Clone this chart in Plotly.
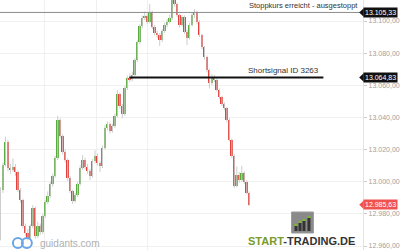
import plotly.graph_objects as go

# ---- data ----
opens = [12965.0, 12994.8, 13010.4, 13024.7, 13008.5, 13007.3, 13009.2, 13006.0, 12994.8, 12988.6,
         12972.4, 12968.1, 12965.0, 12972.4, 12983.6, 12966.2, 12972.4, 12968.7, 12978.7, 12987.4,
         12991.1, 12998.6, 13003.5, 13014.8, 13038.4, 13028.4, 13018.5, 13013.5, 13002.3, 12994.2,
         12988.0, 12991.7, 12998.6, 13008.5, 13013.5, 13009.2, 13006.7, 13003.5, 13012.9, 13016.0,
         13011.6, 13009.8, 13021.0, 13033.4, 13035.9, 13031.6, 13034.7, 13040.9, 13054.6, 13047.1,
         13042.1, 13058.3, 13064.5, 13063.9, 13066.4, 13075.7, 13086.9, 13096.9, 13101.9, 13103.1,
         13099.4, 13105.6, 13096.3, 13092.5, 13091.3, 13088.2, 13093.8, 13097.5, 13099.4, 13101.9,
         13114.3, 13110.6, 13103.7, 13097.5, 13102.5, 13093.2, 13089.4, 13097.5, 13103.7, 13105.6,
         13099.4, 13091.3, 13083.8, 13077.6, 13069.5, 13061.4, 13065.2, 13063.3, 13057.1, 13052.7,
         13048.4, 13045.9, 13038.4, 13026.0, 13016.0, 12997.3, 13004.2, 13001.1, 13005.4, 12999.8,
         12993.0]
highs = [12996.5, 13012.0, 13028.0, 13026.0, 13011.0, 13014.5, 13011.0, 13007.0, 12996.0, 12989.5,
         12974.0, 12970.5, 12973.5, 12985.5, 12984.5, 12975.0, 12974.0, 12980.0, 12988.5, 12994.0,
         13000.0, 13005.0, 13016.0, 13041.0, 13039.5, 13029.5, 13020.0, 13014.5, 13003.5, 12995.0,
         12993.0, 13000.0, 13010.0, 13016.5, 13015.0, 13011.0, 13008.0, 13014.0, 13019.5, 13017.5,
         13013.0, 13022.5, 13035.0, 13037.5, 13037.0, 13036.0, 13042.5, 13057.0, 13055.5, 13048.5,
         13059.5, 13066.0, 13067.5, 13068.5, 13077.0, 13088.0, 13098.0, 13103.5, 13106.0, 13104.5,
         13110.5, 13106.5, 13097.5, 13094.0, 13092.5, 13095.0, 13099.0, 13101.0, 13104.0, 13116.0,
         13115.5, 13111.5, 13104.5, 13103.5, 13103.5, 13094.5, 13099.0, 13105.0, 13107.5, 13106.5,
         13100.5, 13092.0, 13084.5, 13078.5, 13070.5, 13067.0, 13066.5, 13064.5, 13058.0, 13053.5,
         13049.5, 13046.5, 13039.5, 13027.0, 13017.0, 13009.5, 13006.0, 13010.0, 13006.5, 13001.0,
         12994.0]
lows = [12963.5, 12993.0, 13009.5, 13006.5, 13005.0, 13006.0, 13003.5, 12993.5, 12987.0, 12971.0,
        12966.5, 12963.5, 12964.0, 12971.0, 12964.5, 12965.0, 12967.0, 12967.5, 12977.5, 12986.0,
        12990.0, 12997.0, 13002.5, 13013.5, 13027.0, 13017.0, 13012.0, 13000.5, 12993.0, 12986.0,
        12987.0, 12990.5, 12997.5, 13007.5, 13007.5, 13005.0, 13001.0, 13002.5, 13011.5, 13010.0,
        13006.0, 13008.5, 13020.0, 13032.0, 13030.0, 13030.5, 13033.5, 13040.0, 13045.5, 13039.5,
        13041.0, 13057.0, 13062.0, 13062.5, 13065.5, 13074.5, 13085.5, 13095.5, 13100.5, 13098.0,
        13098.5, 13095.0, 13091.0, 13089.5, 13084.5, 13087.0, 13092.5, 13096.0, 13098.5, 13100.5,
        13109.0, 13102.5, 13096.0, 13096.5, 13092.0, 13085.0, 13088.5, 13096.5, 13102.0, 13098.0,
        13090.0, 13082.5, 13076.0, 13068.0, 13058.0, 13060.0, 13062.0, 13056.0, 13051.5, 13047.0,
        13044.5, 13037.0, 13025.0, 13014.5, 12996.0, 12996.5, 12999.5, 13000.0, 12998.5, 12992.0,
        12985.0]
closes = [12994.8, 13010.4, 13024.7, 13008.5, 13007.3, 13009.2, 13006.0, 12994.8, 12988.6, 12972.4,
          12968.1, 12965.0, 12972.4, 12983.6, 12966.2, 12972.4, 12968.7, 12978.7, 12987.4, 12991.1,
          12998.6, 13003.5, 13014.8, 13038.4, 13028.4, 13018.5, 13013.5, 13002.3, 12994.2, 12988.0,
          12991.7, 12998.6, 13008.5, 13013.5, 13009.2, 13006.7, 13003.5, 13012.9, 13016.0, 13011.6,
          13009.8, 13021.0, 13033.4, 13035.9, 13031.6, 13034.7, 13040.9, 13054.6, 13047.1, 13042.1,
          13058.3, 13064.5, 13063.9, 13066.4, 13075.7, 13086.9, 13096.9, 13101.9, 13103.1, 13099.4,
          13105.6, 13096.3, 13092.5, 13091.3, 13088.2, 13093.8, 13097.5, 13099.4, 13101.9, 13114.3,
          13110.6, 13103.7, 13097.5, 13102.5, 13093.2, 13089.4, 13097.5, 13103.7, 13105.6, 13099.4,
          13091.3, 13083.8, 13077.6, 13069.5, 13061.4, 13065.2, 13063.3, 13057.1, 13052.7, 13048.4,
          13045.9, 13038.4, 13026.0, 13016.0, 12997.3, 13004.2, 13001.1, 13005.4, 12999.8, 12993.0,
          12985.63]

y_ticks = [12960, 12980, 13000, 13020, 13040, 13060, 13080, 13100]
y_tick_labels = ["12.960,00", "12.980,00", "13.000,00", "13.020,00",
                 "13.040,00", "13.060,00", "13.080,00", "13.100,00"]
x_grid = [17.8, 38.6, 59.0]

stop_level = 13105.33
stop_label = "13.105,33"
stop_text = "Stoppkurs erreicht - ausgestoppt"
signal_level = 13064.83
signal_label = "13.064,83"
signal_text = "Shortsignal ID 3263"
signal_start = 51.8
signal_end = 129.8
last_label = "12.985,63"

GREEN = "#58ab3c"
RED = "#e5403a"
idx = list(range(len(closes)))

# wicks
wx, wy = [], []
for i in idx:
    wx += [i, i, None]
    wy += [lows[i], highs[i], None]

bodies_base = [min(o, c) for o, c in zip(opens, closes)]
bodies_h = [max(abs(c - o), 0.4) for o, c in zip(opens, closes)]
bodies_col = [GREEN if c >= o else RED for o, c in zip(opens, closes)]

fig = go.Figure()
fig.add_trace(go.Scatter(x=wx, y=wy, mode="lines", line=dict(color="#cdcdcd", width=1),
                         hoverinfo="skip", showlegend=False))
fig.add_trace(go.Bar(x=idx, y=bodies_h, base=bodies_base, width=0.75,
                     marker=dict(color=bodies_col, line=dict(width=0)), showlegend=False))

FONT = "Liberation Sans, Arial, sans-serif"
xdom_end = 365 / 400

fig.update_layout(
    width=400, height=250, margin=dict(l=0, r=0, t=0, b=0),
    paper_bgcolor="white", plot_bgcolor="white", bargap=0,
    font=dict(family=FONT),
    xaxis=dict(domain=[0, xdom_end], range=[-0.2, 145.8], tickvals=x_grid, showticklabels=False,
               showgrid=True, gridcolor="#f0f0f0", gridwidth=1, zeroline=False, showline=False, ticks=""),
    yaxis=dict(side="right", range=[12957.51, 13113.07], tickvals=y_ticks, ticktext=y_tick_labels,
               tickfont=dict(size=7, color="#a0a0a0", family=FONT), ticks="outside", ticklen=3,
               tickcolor="#cccccc", showgrid=True, gridcolor="#f0f0f0", zeroline=False,
               showline=True, linecolor="#e4e4e4", linewidth=1),
)

# level lines
fig.add_shape(type="line", xref="paper", yref="y", x0=0, x1=xdom_end, y0=stop_level, y1=stop_level,
              line=dict(color="#8c8c8c", width=1))
fig.add_shape(type="line", xref="x", yref="y", x0=signal_start, x1=signal_end, y0=signal_level,
              y1=signal_level, line=dict(color="#111111", width=2))

fig.add_annotation(xref="paper", yref="y", x=362 / 400, y=stop_level, xanchor="right", yanchor="bottom",
                   text=stop_text, showarrow=False, font=dict(size=7.5, color="#333333"), yshift=0)
fig.add_annotation(xref="x", yref="y", x=signal_end, y=signal_level, xanchor="right", yanchor="bottom",
                   text=signal_text, showarrow=False, font=dict(size=8, color="#333333"), xshift=-2, yshift=1)

# price boxes with pointer
for lvl, lab, col in [(stop_level, stop_label, "#111111"), (signal_level, signal_label, "#111111"),
                      (closes[-1], last_label, "#ef5350")]:
    fig.add_annotation(xref="paper", yref="y", x=xdom_end, y=lvl, xanchor="left", yanchor="middle",
                       text=lab, showarrow=False, bgcolor=col, borderpad=1,
                       font=dict(size=7, color="white"))
    h = 4.2 / 1.6071
    fig.add_shape(type="path", xref="paper", yref="y",
                  path=f"M {361/400},{lvl} L {365.5/400},{lvl + h} L {365.5/400},{lvl - h} Z",
                  fillcolor=col, line=dict(width=0))

# guidants logo
for cx in (18, 27):
    fig.add_shape(type="circle", xref="paper", yref="paper",
                  x0=(cx - 5) / 400, x1=(cx + 5) / 400, y0=1 - 248 / 250, y1=1 - 238 / 250,
                  line=dict(color="#6aa6e6", width=2))
fig.add_annotation(xref="paper", yref="paper", x=38 / 400, y=1 - 243 / 250, xanchor="left", yanchor="middle",
                   text="guidants.com", showarrow=False, font=dict(size=10, color="#b0b0b0"))

# START-TRADING.DE logo
fig.add_shape(type="rect", xref="paper", yref="paper", x0=293 / 400, x1=315 / 400,
              y0=1 - 233 / 250, y1=1 - 212 / 250, fillcolor="#8a8a8a", line=dict(color="#9a9a9a", width=1))
for bx, top in [(296, 224), (300, 221), (304, 219), (309, 216)]:
    fig.add_shape(type="rect", xref="paper", yref="paper", x0=bx / 400, x1=(bx + 3) / 400,
                  y0=1 - 231 / 250, y1=1 - (top + 2) / 250, fillcolor="#333333", line=dict(width=0))
    fig.add_shape(type="rect", xref="paper", yref="paper", x0=bx / 400, x1=(bx + 3) / 400,
                  y0=1 - (top + 2) / 250, y1=1 - top / 250, fillcolor="#7cb82f", line=dict(width=0))
fig.add_annotation(xref="paper", yref="paper", x=303 / 400, y=1 - 241 / 250, xanchor="center", yanchor="middle",
                   text="<b><span style='color:#7a9a2a'>START</span>-TRADING.DE</b>", showarrow=False,
                   font=dict(size=11, color="#333333"))

fig.write_html("out.html")
